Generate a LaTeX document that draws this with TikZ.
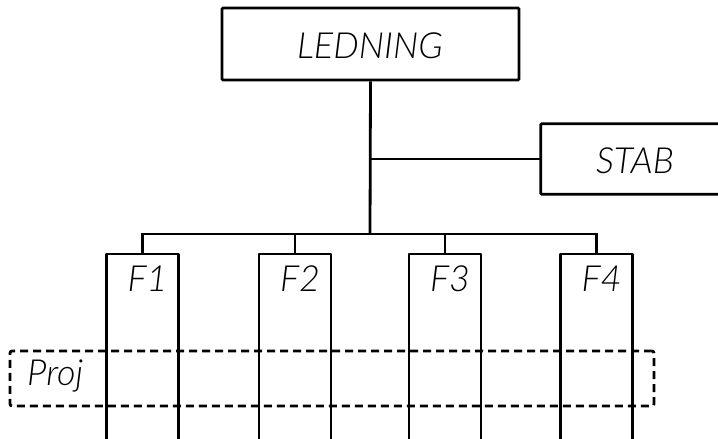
\documentclass[tikz,border=0pt]{standalone}
\usepackage{fontspec}
\newfontfamily\lbl{Lato Light Italic}
\begin{document}
\begin{tikzpicture}[x=1pt,y=-1pt,
  box/.style={draw,rectangle,rounded corners=1pt,inner sep=0pt,line width=2.8pt},
  txt/.style={font=\lbl\fontsize{36}{40}\selectfont,anchor=base,inner sep=0pt},
  wire/.style={line width=2.8pt},
  proj/.style={draw,dash pattern=on 8pt off 5pt,rounded corners=2pt,line width=2.8pt}]
\useasboundingbox (0,0) rectangle (718,439);

% top-level boxes
\node[box,minimum width=297pt,minimum height=72pt] (led) at (370.5,44) {};
\node[txt] (ledt) at (370,58) {LEDNING};
% STAB runs off the right edge of the sheet
\node[inner sep=0pt,minimum width=240pt,minimum height=70pt] (stab) at (661,159) {};
\draw[wire,rounded corners=1pt] (stab.north east) -- (stab.north west) -- (stab.south west) -- (stab.south east);
\node[txt] (stabt) at (635,173) {STAB};

% trunk, side branch and bus
\coordinate (bus) at (370,234);
\coordinate (tee) at (370,159);
\draw[wire] (led.south) -- (bus);
\draw[wire] (tee) -- (stab.west);

% open-bottom columns F1..F4
\foreach \n/\cx in {1/142.5,2/295,3/445,4/596.5}{
  \coordinate (f\n) at (\cx,254);
  \draw[wire,line join=round] (\cx-36,445) -- (\cx-36,254) -- (\cx+36,254) -- (\cx+36,445);
  \node[txt] (f\n t) at (\cx+5,291) {F\n};
}
\draw[wire] (f1) -- (f1|-bus) -- (f4|-bus) -- (f4);
\draw[wire] (f2|-bus) -- (f2);
\draw[wire] (f3|-bus) -- (f3);

% dashed project band
\node[proj,minimum width=644pt,minimum height=55pt,inner sep=0pt] (projbox) at (332,378.5) {};
\node[txt,anchor=base west] (projt) at (27,385) {Proj};
\end{tikzpicture}
\end{document}
